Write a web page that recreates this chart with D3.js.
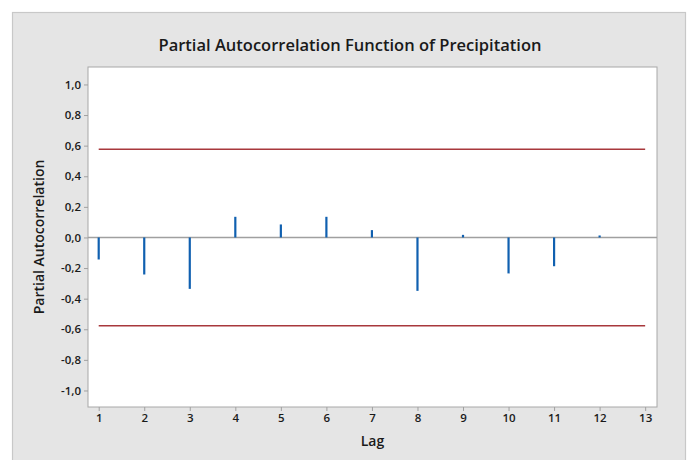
<!DOCTYPE html>
<html>
<head>
<meta charset="utf-8">
<script src="https://cdn.jsdelivr.net/npm/d3@7"></script>
<style>
  body { margin: 0; background: #fff; }
  svg { display: block; font-family: "Open Sans", "Noto Sans", sans-serif; }
</style>
</head>
<body>
<svg width="692" height="460"></svg>
<script>
// lags and partial autocorrelation values
const lags = [1, 2, 3, 4, 5, 6, 7, 8, 9, 10, 11, 12];
const pacf = [-0.144, -0.242, -0.336, 0.135, 0.085, 0.135, 0.048, -0.349, 0.017, -0.235, -0.188, 0.013];
const limit = 0.577;
const yTicks = [-1.0, -0.8, -0.6, -0.4, -0.2, 0.0, 0.2, 0.4, 0.6, 0.8, 1.0];
const xTicks = d3.range(1, 14);

const svg = d3.select("svg");
const pl = 88, pt = 67, pr = 657, pb = 407;

// gray background panel
svg.append("rect")
  .attr("x", 12.5).attr("y", 12.5)
  .attr("width", 673).attr("height", 460)
  .attr("fill", "#e5e5e5").attr("stroke", "#c8c8c8").attr("stroke-width", 1.2);

const x = d3.scaleLinear().domain([0.765, 13.26]).range([pl, pr]);
const y = d3.scaleLinear().domain([-1.108, 1.114]).range([pb, pt]);

svg.append("rect")
  .attr("x", pl).attr("y", pt)
  .attr("width", pr - pl).attr("height", pb - pt)
  .attr("fill", "#fff").attr("stroke", "#a8a8a8");

// zero line
svg.append("line")
  .attr("x1", pl).attr("x2", pr)
  .attr("y1", y(0)).attr("y2", y(0))
  .attr("stroke", "#a0a0a0").attr("stroke-width", 1.5);

// significance limits
svg.selectAll("line.limit")
  .data([limit, -limit])
  .join("line")
  .attr("class", "limit")
  .attr("x1", x(1)).attr("x2", x(13))
  .attr("y1", d => y(d)).attr("y2", d => y(d))
  .attr("stroke", "#a8383c").attr("stroke-width", 1.5);

// spikes
svg.selectAll("line.spike")
  .data(lags.map((l, i) => [l, pacf[i]]))
  .join("line")
  .attr("class", "spike")
  .attr("x1", d => x(d[0])).attr("x2", d => x(d[0]))
  .attr("y1", y(0)).attr("y2", d => y(d[1]))
  .attr("stroke", "#1060b0").attr("stroke-width", 2.2);

const fmt = v => d3.format(".1f")(v).replace(".", ",").replace("−", "-");

const yAxis = svg.append("g")
  .attr("transform", `translate(${pl},0)`)
  .call(d3.axisLeft(y).tickValues(yTicks).tickSize(4).tickPadding(3).tickFormat(fmt));
const xAxis = svg.append("g")
  .attr("transform", `translate(0,${pb})`)
  .call(d3.axisBottom(x).tickValues(xTicks).tickSize(4).tickPadding(3).tickFormat(d3.format("d")));

[yAxis, xAxis].forEach(g => {
  g.select(".domain").remove();
  g.selectAll(".tick line").attr("stroke", "#a0a0a0");
  g.selectAll(".tick text")
    .attr("fill", "#1a1a1a")
    .attr("font-size", 11.5)
    .attr("font-weight", 600)
    .attr("font-family", "'Open Sans', sans-serif");
});

svg.append("text")
  .attr("x", 350).attr("y", 51)
  .attr("text-anchor", "middle")
  .attr("font-size", 16.5).attr("font-weight", 600)
  .attr("fill", "#1a1a1a")
  .text("Partial Autocorrelation Function of Precipitation");

svg.append("text")
  .attr("transform", `translate(44,${(pt + pb) / 2}) rotate(-90)`)
  .attr("text-anchor", "middle")
  .attr("font-size", 14).attr("font-weight", 600)
  .attr("fill", "#1a1a1a")
  .text("Partial Autocorrelation");

svg.append("text")
  .attr("x", (pl + pr) / 2).attr("y", 446)
  .attr("text-anchor", "middle")
  .attr("font-size", 14).attr("font-weight", 600)
  .attr("fill", "#1a1a1a")
  .text("Lag");
</script>
</body>
</html>
